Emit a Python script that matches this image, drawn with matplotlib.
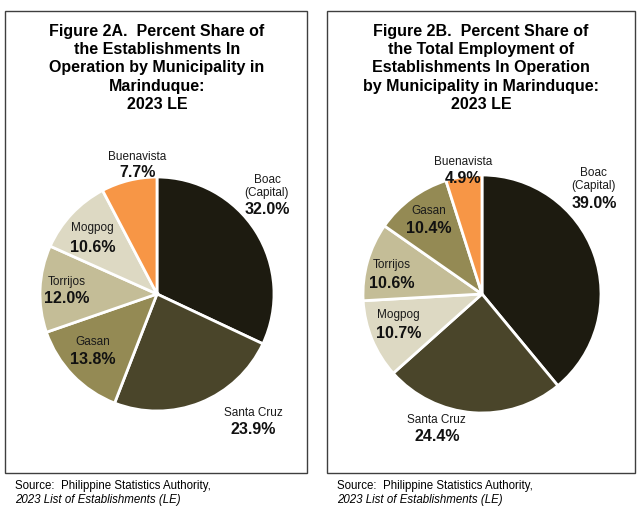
import matplotlib.pyplot as plt
from matplotlib.patches import Rectangle

plt.rcParams['font.family'] = ['Liberation Sans', 'DejaVu Sans']

# --- data ---
colors = {'Boac': '#1d1b10', 'Santa Cruz': '#4a452a', 'Gasan': '#948a54',
          'Torrijos': '#c4bd97', 'Mogpog': '#ddd9c3', 'Buenavista': '#f79646'}

towns_a = ['Boac', 'Santa Cruz', 'Gasan', 'Torrijos', 'Mogpog', 'Buenavista']
shares_a = [32.0, 23.9, 13.8, 12.0, 10.6, 7.7]

towns_b = ['Boac', 'Santa Cruz', 'Mogpog', 'Torrijos', 'Gasan', 'Buenavista']
shares_b = [39.0, 24.4, 10.7, 10.6, 10.4, 4.9]

title_a = ('Figure 2A.  Percent Share of\nthe Establishments In\n'
           'Operation by Municipality in\nMarinduque:\n2023 LE')
title_b = ('Figure 2B.  Percent Share of\nthe Total Employment of\n'
           'Establishments In Operation\nby Municipality in Marinduque:\n2023 LE')

# label placement (x, y of name, y of percent) in pie-radius units
pos_a = [(0.94, 0.92, 0.72), (0.82, -1.02, -1.16), (-0.55, -0.41, -0.56),
         (-0.77, 0.10, -0.04), (-0.55, 0.56, 0.40), (-0.17, 1.17, 1.04)]
pos_b = [(0.94, 0.96, 0.76), (-0.38, -1.06, -1.20), (-0.70, -0.18, -0.33),
         (-0.76, 0.24, 0.09), (-0.45, 0.70, 0.55), (-0.16, 1.11, 0.97)]

W, H = 640, 513
fig = plt.figure(figsize=(W / 100, H / 100), dpi=100)


def px_box(x0, y0, x1, y1):
    return [x0 / W, 1 - y1 / H, (x1 - x0) / W, (y1 - y0) / H]


def panel(box, pie_box, title, title_x, towns, shares, pos, src_x):
    l, b, w, h = px_box(*box)
    fig.add_artist(Rectangle((l, b), w, h, transform=fig.transFigure,
                             fill=False, edgecolor='#3f3f3f', linewidth=1.0))
    fig.text(title_x / W, 1 - 24 / H, title, ha='center', va='top',
             fontsize=11.5, fontweight='bold', linespacing=1.27)

    ax = fig.add_axes(px_box(*pie_box))
    ax.pie(shares, colors=[colors[t] for t in towns], startangle=90,
           counterclock=False, radius=1.0,
           wedgeprops=dict(edgecolor='white', linewidth=2))
    ax.set_xlim(-1, 1)
    ax.set_ylim(-1, 1)
    ax.set_aspect('equal')
    ax.axis('off')

    for town, val, (x, yn, yp) in zip(towns, shares, pos):
        name = 'Boac\n(Capital)' if town == 'Boac' else town
        ax.text(x, yn, name, ha='center', va='center', fontsize=8.5,
                color='#1a1a1a', linespacing=1.15)
        ax.text(x, yp, f'{val:.1f}%', ha='center', va='center', fontsize=11.5,
                fontweight='bold', color='#111111')

    fig.text(src_x / W, 1 - 486 / H, 'Source:  Philippine Statistics Authority,',
             ha='left', va='center', fontsize=8.3)
    fig.text(src_x / W, 1 - 500 / H, '2023 List of Establishments (LE)',
             ha='left', va='center', fontsize=8.3, style='italic')


panel((5, 11, 307, 473), (40, 177, 274, 411), title_a, 157,
      towns_a, shares_a, pos_a, 15)
panel((327, 11, 635, 473), (363, 175, 601, 413), title_b, 481,
      towns_b, shares_b, pos_b, 337)

fig.savefig('out.png', dpi=100)
